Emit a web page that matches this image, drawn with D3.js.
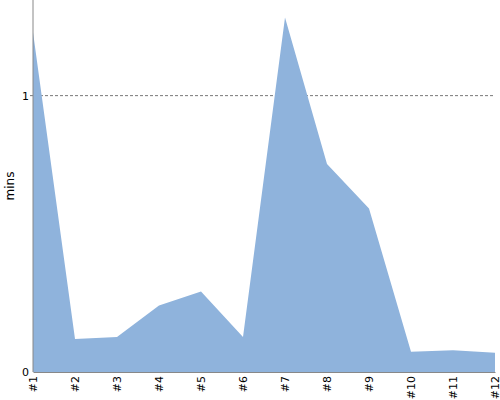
<!DOCTYPE html>
<html><head><meta charset="utf-8">
<script src="https://cdn.jsdelivr.net/npm/d3@7"></script>
<style>body{margin:0;background:#fff}svg{display:block}text{font-family:"DejaVu Sans",sans-serif}</style>
</head><body><svg id="c" width="500" height="400"></svg>
<script>
const categories = ["#1","#2","#3","#4","#5","#6","#7","#8","#9","#10","#11","#12"];
const values = [1.229,0.119,0.127,0.241,0.291,0.127,1.283,0.753,0.592,0.073,0.079,0.070];
const yTicks = [0,1];
const yLabel = "mins";

const svg = d3.select("#c");
const m = {l:33, r:5, t:0, b:28};
const W = 500, H = 400;
const x = d3.scalePoint().domain(categories).range([m.l, W - m.r]);
const y = d3.scaleLinear().domain([0, 1.346]).range([H - m.b, m.t]);

// dashed line at 1
svg.append("line").attr("x1", m.l - 3).attr("x2", W - m.r)
  .attr("y1", y(1)).attr("y2", y(1))
  .attr("stroke", "#777").attr("stroke-width", 1).attr("stroke-dasharray", "3,2");

const area = d3.area().x((d,i)=>x(categories[i])).y0(y(0)).y1(d=>y(d)).curve(d3.curveLinear);
svg.append("path").datum(values).attr("d", area).attr("fill", "#8fb3dc");

const ya = svg.append("g").attr("transform", `translate(${m.l},0)`)
  .call(d3.axisLeft(y).tickValues(yTicks).tickFormat(d3.format("d")).tickSize(0).tickPadding(4));
ya.select(".domain").attr("stroke", "#888").attr("d", `M0,${y(0)}V${m.t}`);
ya.selectAll("text").attr("font-size", 11).attr("fill", "#000").attr("font-family", "DejaVu Sans");

const xa = svg.append("g").attr("transform", `translate(0,${H - m.b})`)
  .call(d3.axisBottom(x).tickSize(0));
xa.select(".domain").attr("stroke", "#888");
xa.selectAll("text").attr("font-size", 11).attr("fill", "#000").attr("font-family", "DejaVu Sans")
  .attr("text-anchor", "end").attr("transform", "rotate(-90)")
  .attr("x", -4).attr("y", 0).attr("dy", "0.35em");

svg.append("text").attr("transform", `translate(14,${(y(0)+m.t)/2}) rotate(-90)`)
  .attr("text-anchor", "middle").attr("font-size", 12).text(yLabel);
</script></body></html>
